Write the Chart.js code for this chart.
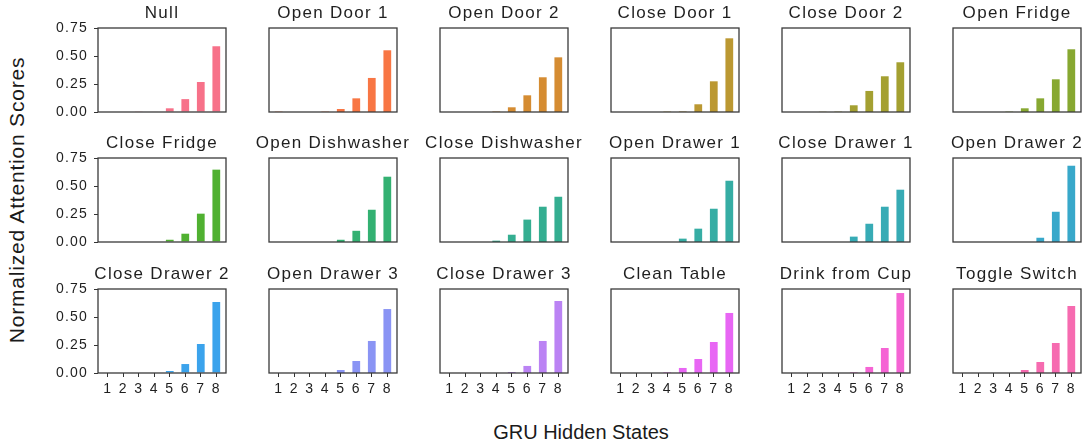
<!DOCTYPE html>
<html>
<head>
<meta charset="utf-8">
<script src="https://cdn.jsdelivr.net/npm/chart.js@4.4.1/dist/chart.umd.min.js"></script>
<style>
  html, body { margin: 0; padding: 0; background: #ffffff; }
  body { width: 1087px; height: 448px; position: relative; overflow: hidden; }
  canvas { position: absolute; }
  .axlabel { position: absolute; font-family: "Liberation Sans", Arial, sans-serif; color: #1a1a1a; white-space: nowrap; }
</style>
</head>
<body>
<div class="axlabel" id="ylab" style="left:17px; top:200px; font-size:21px; letter-spacing:0.8px; transform: translate(-50%,-50%) rotate(-90deg);">Normalized Attention Scores</div>
<div class="axlabel" id="xlab" style="left:581px; top:432px; font-size:20px; transform: translate(-50%,-50%);">GRU Hidden States</div>
<script>
// ---------- data ----------
const categories = ['1', '2', '3', '4', '5', '6', '7', '8'];
const actionNames = ['Null', 'Open Door 1', 'Open Door 2', 'Close Door 1', 'Close Door 2', 'Open Fridge',
  'Close Fridge', 'Open Dishwasher', 'Close Dishwasher', 'Open Drawer 1', 'Close Drawer 1', 'Open Drawer 2',
  'Close Drawer 2', 'Open Drawer 3', 'Close Drawer 3', 'Clean Table', 'Drink from Cup', 'Toggle Switch'];
const yTickValues = [0, 0.25, 0.5, 0.75];

const nullScores            = [0, 0, 0.003, 0.004, 0.033, 0.115, 0.268, 0.587];
const openDoor1Scores       = [0.003, 0, 0, 0.003, 0.027, 0.122, 0.304, 0.551];
const openDoor2Scores       = [0, 0, 0, 0.004, 0.042, 0.149, 0.31, 0.488];
const closeDoor1Scores      = [0, 0, 0, 0.003, 0.004, 0.069, 0.274, 0.658];
const closeDoor2Scores      = [0, 0, 0.002, 0.003, 0.06, 0.188, 0.319, 0.444];
const openFridgeScores      = [0, 0, 0, 0.003, 0.033, 0.122, 0.292, 0.56];
const closeFridgeScores     = [0, 0, 0, 0, 0.02, 0.074, 0.253, 0.646];
const openDishwasherScores  = [0, 0, 0, 0, 0.02, 0.1, 0.288, 0.583];
const closeDishwasherScores = [0, 0, 0, 0.012, 0.065, 0.2, 0.315, 0.404];
const openDrawer1Scores     = [0, 0, 0, 0, 0.03, 0.119, 0.297, 0.547];
const closeDrawer1Scores    = [0, 0, 0, 0, 0.048, 0.163, 0.315, 0.467];
const openDrawer2Scores     = [0, 0, 0, 0, 0, 0.038, 0.27, 0.681];
const closeDrawer2Scores    = [0, 0, 0, 0, 0.018, 0.08, 0.259, 0.634];
const openDrawer3Scores     = [0, 0, 0, 0, 0.027, 0.107, 0.286, 0.571];
const closeDrawer3Scores    = [0, 0, 0, 0, 0.008, 0.063, 0.286, 0.643];
const cleanTableScores      = [0, 0, 0, 0.005, 0.045, 0.125, 0.277, 0.536];
const drinkFromCupScores    = [0, 0, 0, 0, 0.005, 0.054, 0.223, 0.714];
const toggleSwitchScores    = [0, 0, 0, 0, 0.027, 0.098, 0.268, 0.598];

const allScores = [nullScores, openDoor1Scores, openDoor2Scores, closeDoor1Scores, closeDoor2Scores, openFridgeScores,
  closeFridgeScores, openDishwasherScores, closeDishwasherScores, openDrawer1Scores, closeDrawer1Scores, openDrawer2Scores,
  closeDrawer2Scores, openDrawer3Scores, closeDrawer3Scores, cleanTableScores, drinkFromCupScores, toggleSwitchScores];

// ---------- husl palette (seaborn style) ----------
const M = [[3.2406, -1.5372, -0.4986], [-0.9689, 1.8758, 0.0415], [0.0557, -0.2040, 1.0570]];
const refU = 0.19784, refV = 0.46834, labE = 0.008856, labK = 903.3;
function maxChroma(L, H) {
  const hr = H / 180 * Math.PI, sinH = Math.sin(hr), cosH = Math.cos(hr);
  const sub1 = Math.pow(L + 16, 3) / 1560896;
  const sub2 = sub1 > labE ? sub1 : L / labK;
  let res = Infinity;
  for (const [m1, m2, m3] of M) {
    const top = (0.99915 * m1 + 1.05122 * m2 + 1.14460 * m3) * sub2;
    const rb = 0.86330 * m3 - 0.17266 * m2;
    const lb = 0.12949 * m3 - 0.38848 * m1;
    const bottom = (rb * sinH + lb * cosH) * sub2;
    for (const t of [0, 1]) {
      const C = L * (top - 1.05122 * t) / (bottom + 0.17266 * sinH * t);
      if (C > 0 && C < res) res = C;
    }
  }
  return res;
}
function huslToHex(H, S, L) {
  const C = maxChroma(L, H) / 100 * S;
  const hr = H / 180 * Math.PI;
  const U = Math.cos(hr) * C, V = Math.sin(hr) * C;
  const t = (L + 16) / 116;
  const varY = Math.pow(t, 3) > labE ? Math.pow(t, 3) : (116 * t - 16) / labK;
  const varU = U / (13 * L) + refU, varV = V / (13 * L) + refV;
  const Y = varY;
  const X = 0 - (9 * Y * varU) / ((varU - 4) * varV - varU * varV);
  const Z = (9 * Y - 15 * varV * Y - varV * X) / (3 * varV);
  const rgb = M.map(r => r[0] * X + r[1] * Y + r[2] * Z).map(c => c <= 0.0031308 ? 12.92 * c : 1.055 * Math.pow(c, 1 / 2.4) - 0.055);
  return '#' + rgb.map(c => Math.round(Math.min(1, Math.max(0, c)) * 255).toString(16).padStart(2, '0')).join('');
}
function huslPalette(n) {
  const out = [];
  for (let i = 0; i < n; i++) {
    const h = ((i / n + 0.01) % 1) * 359;
    out.push(huslToHex(h, 0.9 * 99, 0.65 * 99));
  }
  return out;
}
const palette = huslPalette(actionNames.length);

// ---------- layout ----------
const colLefts = [98, 269, 440, 611, 782, 953];
const rowTops = [28, 158, 289];
const PW = 128, PH = 84;
const PADL = 60, PADT = 30, PADB = 30, PADR = 60;
const FONT = '"Liberation Sans", Arial, sans-serif';
const TXT = '#1f1f1f';
const xPositions = categories.map(Number);
const xMin = xPositions[0] - 0.625, xMax = xPositions[xPositions.length - 1] + 0.625;

const framePlugin = {
  id: 'frame',
  beforeDraw(chart) { chart.ctx.letterSpacing = '1.2px'; },
  afterDatasetsDraw(chart) {
    const { ctx, chartArea: a } = chart;
    ctx.save();
    ctx.strokeStyle = '#3a3a3a';
    ctx.lineWidth = 1.3;
    ctx.strokeRect(a.left, a.top, a.right - a.left, a.bottom - a.top);
    ctx.restore();
  }
};

actionNames.forEach((name, idx) => {
  const r = Math.floor(idx / 6), c = idx % 6;
  const isLeft = c === 0, isBottom = r === 2;
  const cv = document.createElement('canvas');
  const W = PADL + PW + PADR, H = PADT + PH + PADB;
  cv.width = W; cv.height = H;
  cv.style.left = (colLefts[c] - PADL) + 'px';
  cv.style.top = (rowTops[r] - PADT) + 'px';
  cv.style.width = W + 'px'; cv.style.height = H + 'px';
  document.body.appendChild(cv);

  const chart = new Chart(cv.getContext('2d'), {
    type: 'bar',
    data: {
      datasets: [{
        data: xPositions.map((x, i) => ({ x: x, y: allScores[idx][i] })),
        backgroundColor: palette[idx], borderWidth: 0, barPercentage: 0.5, categoryPercentage: 1.0,
        xAxisID: 'x', yAxisID: 'y'
      }]
    },
    options: {
      responsive: false, animation: false, devicePixelRatio: 1,
      layout: { padding: 0 },
      plugins: {
        legend: { display: false }, tooltip: { enabled: false },
        title: { display: true, text: name, color: TXT, font: { family: FONT, size: 17, lineHeight: 1, weight: 'normal' }, padding: { top: 7, bottom: 6 } }
      },
      scales: {
        x: {
          type: 'linear', min: xMin, max: xMax, offset: false,
          grid: { display: isBottom, offset: false, drawOnChartArea: false, drawTicks: true, tickLength: 4, color: '#333', lineWidth: 1 },
          border: { display: false },
          ticks: { display: isBottom, color: TXT, font: { family: FONT, size: 14 }, padding: 4, maxRotation: 0, autoSkip: false,
                   callback: (v) => categories[xPositions.indexOf(v)] },
          afterBuildTicks(s) { s.ticks = xPositions.map(v => ({ value: v })); },
          afterFit(s) { s.height = PADB; }
        },
        y: {
          position: 'left', min: 0, max: 0.75,
          grid: { display: isLeft, drawOnChartArea: false, drawTicks: true, tickLength: 4, color: '#333', lineWidth: 1 },
          border: { display: false },
          ticks: { display: isLeft, color: TXT, font: { family: FONT, size: 14 }, padding: 6, callback: v => Number(v).toFixed(2) },
          afterBuildTicks(s) { s.ticks = yTickValues.map(v => ({ value: v })); },
          afterFit(s) { s.width = PADL; }
        },
        yRight: {
          position: 'right', min: 0, max: 0.75,
          grid: { display: false }, border: { display: false }, ticks: { display: false },
          afterFit(s) { s.width = PADR; }
        }
      }
    },
    plugins: [framePlugin]
  });
  const tb = chart.titleBlock;
  if (tb) {
    const od = tb.draw.bind(tb);
    tb.draw = function (area) {
      const ctx = chart.ctx, prev = ctx.letterSpacing;
      ctx.letterSpacing = '1.3px';
      od(area);
      ctx.letterSpacing = prev;
    };
  }
  chart.draw();
});
</script>
</body>
</html>
